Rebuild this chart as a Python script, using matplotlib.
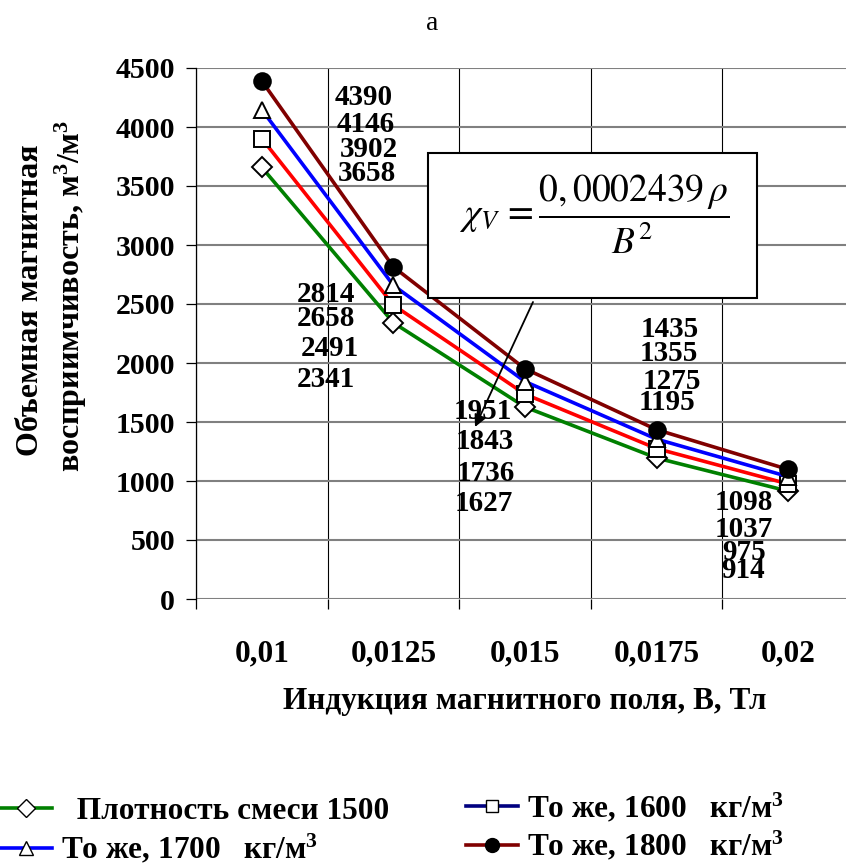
import matplotlib
matplotlib.use("Agg")
import matplotlib.pyplot as plt
from matplotlib.lines import Line2D
from matplotlib.patches import Rectangle

# --- data -----------------------------------------------------------------
induction = ["0,01", "0,0125", "0,015", "0,0175", "0,02"]
chi_1500 = [3658, 2341, 1627, 1195, 914]
chi_1600 = [3902, 2491, 1736, 1275, 975]
chi_1700 = [4146, 2658, 1843, 1355, 1037]
chi_1800 = [4390, 2814, 1951, 1435, 1098]
y_ticks = [0, 500, 1000, 1500, 2000, 2500, 3000, 3500, 4000, 4500]

W, H = 846, 865
plt.rcParams["font.family"] = ["Liberation Serif", "DejaVu Serif"]
plt.rcParams["mathtext.fontset"] = "custom"
plt.rcParams["mathtext.rm"] = "Liberation Serif:bold"
plt.rcParams["mathtext.it"] = "Liberation Serif:italic:bold"
plt.rcParams["mathtext.bf"] = "Liberation Serif:bold"

fig = plt.figure(figsize=(W / 100, H / 100), dpi=100)


def fx(x):
    return x / W


def fy(y):
    return 1 - y / H


ax = fig.add_axes([fx(196), fy(599), (854 - 196) / W, (599 - 68) / H])

x = list(range(len(induction)))
series = [
    (chi_1500, "#008000", "D", "white", 10.5),
    (chi_1600, "#ff0000", "s", "white", 11),
    (chi_1700, "#0000ff", "^", "white", 11.5),
    (chi_1800, "#800000", "o", "black", 12),
]
for vals, col, mk, fc, ms in series:
    ax.plot(x, vals, color=col, lw=2.6, marker=mk, markersize=ms,
            markerfacecolor=fc, markeredgecolor="black", markeredgewidth=1.4,
            zorder=3, clip_on=False)

ax.set_xlim(-0.5, len(induction) - 0.5)
ax.set_ylim(0, 4500)
ax.set_yticks(y_ticks)
ax.set_xticks(x)
ax.set_xticklabels(induction)
ax.set_xticks([i - 0.5 for i in range(len(induction) + 1)], minor=True)

ax.grid(axis="y", which="major", color="#808080", lw=1.5, zorder=1)
ax.grid(axis="x", which="minor", color="black", lw=0.8, zorder=1)
ax.set_axisbelow(True)
for s in ("top", "right", "bottom"):
    ax.spines[s].set_visible(False)
ax.spines["left"].set_color("black")
ax.spines["left"].set_linewidth(0.9)

ax.tick_params(axis="y", which="major", length=7, width=0.9, pad=8,
               labelsize=21.5, direction="out")
ax.tick_params(axis="x", which="major", length=0, pad=29, labelsize=22.5)
ax.tick_params(axis="x", which="minor", length=7, width=0.9, direction="out")
for lab in ax.get_xticklabels() + ax.get_yticklabels():
    lab.set_fontweight("bold")

ax.set_xlabel("Индукция магнитного поля, В, Тл", fontsize=22.5,
              fontweight="bold")
ax.xaxis.set_label_coords(0.5, -(701 - 599) / 531)
ax.xaxis.label.set_va("center")

# y axis title in two lines
fig.text(fx(30), fy(300), "Объемная магнитная", rotation=90, ha="center",
         va="center", fontsize=23, fontweight="bold")
fig.text(fx(71), fy(296), "восприимчивость, м$^3$/м$^3$", rotation=90,
         ha="center", va="center", fontsize=23, fontweight="bold")

fig.text(fx(432), fy(23), "а", ha="center", va="center", fontsize=20)

# value labels, offsets in pixels from each point
label_offsets = [
    [(105, -6), (-68, -57), (-41, -96), (10, 55), (-45, -79)],    # 1500
    [(107, -11), (-64, -43), (-39, -79), (15, 67), (-44, -69)],   # 1600
    [(104, -15), (-67, -33), (-40, -60), (12, 86), (-44, -53)],   # 1700
    [(102, -17), (-67, -28), (-42, -43), (13, 100), (-44, -33)],  # 1800
]
for (vals, *_), offs in zip(series, label_offsets):
    for xi, v, off in zip(x, vals, offs):
        ax.annotate(f"{v}", xy=(xi, v), xytext=off, textcoords="offset pixels",
                    ha="center", va="center", fontsize=21, fontweight="bold",
                    zorder=5, annotation_clip=False)

# formula box with arrow
box = Rectangle((fx(428), fy(298)), (757 - 428) / W, (298 - 153) / H,
                transform=fig.transFigure, facecolor="white",
                edgecolor="black", lw=1.5, zorder=6, clip_on=False)
ax.add_patch(box)
ax.text(fx(594), fy(214), r"$\chi_V\, =\dfrac{0,0002439\,\rho}{B^2}$",
        transform=fig.transFigure, ha="center", va="center", fontsize=27,
        math_fontfamily="stix", zorder=7)
ax.annotate("", xy=(475, H - 427), xycoords="figure pixels",
            xytext=(533, H - 302), textcoords="figure pixels",
            arrowprops=dict(arrowstyle="-|>", color="black", lw=1.3,
                            mutation_scale=18, shrinkA=0, shrinkB=0),
            zorder=7, annotation_clip=False)

# legend
leg_left = [
    Line2D([], [], color="#008000", lw=2.6, marker="D", markersize=9,
           markerfacecolor="white", markeredgecolor="black"),
    Line2D([], [], color="#0000ff", lw=2.6, marker="^", markersize=10,
           markerfacecolor="white", markeredgecolor="black"),
]
leg_right = [
    Line2D([], [], color="#000080", lw=2.6, marker="s", markersize=9,
           markerfacecolor="white", markeredgecolor="black"),
    Line2D([], [], color="#800000", lw=2.6, marker="o", markersize=10,
           markerfacecolor="black", markeredgecolor="black"),
]
common = dict(frameon=False, handlelength=1.66, handletextpad=0.3,
              borderpad=0, borderaxespad=0, labelspacing=0.2, loc="upper left",
              prop={"weight": "bold", "size": 22.5})
l1 = fig.legend(leg_left, ["  Плотность смеси 1500", "То же, 1700   кг/м$^3$"],
                bbox_to_anchor=(fx(0), fy(797)), **common)
common["labelspacing"] = 0.15
l2 = fig.legend(leg_right, ["То же, 1600   кг/м$^3$", "То же, 1800   кг/м$^3$"],
                bbox_to_anchor=(fx(466), fy(791)), **common)

fig.savefig("out.png", dpi=100)
